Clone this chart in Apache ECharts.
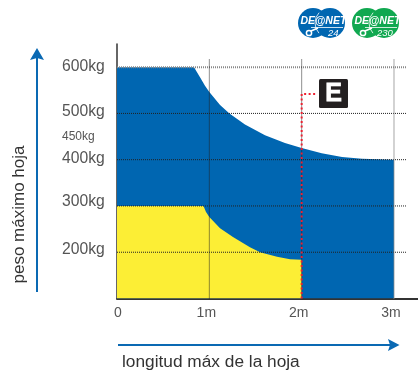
<!DOCTYPE html>
<html><head><meta charset="utf-8">
<style>html,body{margin:0;padding:0;background:#fff}#c{width:418px;height:374px}</style>
<script src="https://cdn.jsdelivr.net/npm/echarts@6/dist/echarts.min.js"></script>
</head><body><div id="c"></div>
<script>
const blueCurve = [[0,600],[0.834,600],[0.899,578],[0.953,560],[1,546],[1.116,518],[1.218,500],[1.386,476],[1.603,453],[1.819,436],[2,425],[2.217,414],[2.437,406],[2.654,402],[3,400]];
const yellowCurve = [[0,300],[0.937,300],[0.964,287],[1,276],[1.116,252],[1.256,233],[1.44,211],[1.549,200],[1.733,190],[1.874,185],[2,184]];
const redLine = [[2,100],[2,542],[2.165,542]];
const yTicks = [200,300,400,450,500,600];
const xTicks = [0,1,2,3];
const hLines = [600,500,400,300,200];
const vLines = [1,2,3];
const gridEndX = 3.13, gridTopY = 617;
const xTitle = 'longitud máx de la hoja';
const yTitle = 'peso máximo hoja';
const sans = '"Liberation Sans", Arial, sans-serif';
const BLUE = '#0066b1', GREEN = '#10a850', ARROW = '#0a69b3';

function area(name, data, color){
  return {name, type:'line', data, showSymbol:false, silent:true,
    lineStyle:{width:0}, itemStyle:{color}, areaStyle:{color, opacity:1, origin:'start'}, z:2};
}
function rule(name, data, color, width){
  return {name, type:'line', data, showSymbol:false, silent:true,
    lineStyle:{color, width, type:[1,1]}, itemStyle:{color}, z:3};
}
const series = [area('max', blueCurve, BLUE), area('hoja', yellowCurve, '#fcee35')];
hLines.forEach(v => series.push(rule(v+'kg', [[0,v],[gridEndX,v]], v===600?'#888':'#222', v===600?2:1)));
vLines.forEach(v => series.push(rule(v+'m', [[v,100],[v,gridTopY]], v===3?'#888':'#222', v===3?1.5:1)));
series.push({name:'E', type:'line', data:redLine, showSymbol:false, silent:true,
  lineStyle:{color:'#ee2030', width:2, type:[2,2.5]}, itemStyle:{color:'#ee2030'}, z:4});

function logo(x, color, sub){
  return [
    {type:'circle', shape:{cx:x+15,cy:23,r:15}, style:{fill:color}},
    {type:'circle', shape:{cx:x+32,cy:23,r:15}, style:{fill:color}},
    {type:'arc', shape:{cx:x+32,cy:23,r:15,startAngle:2.4,endAngle:3.9}, style:{stroke:'#fff',lineWidth:0.8,fill:null}},
    {type:'text', x:x+2.5, y:15.5, style:{text:'DE@NET', fill:'#fff', font:'italic bold 10.5px '+sans}},
    {type:'line', shape:{x1:x+13,y1:27.5,x2:x+45,y2:27.5}, style:{stroke:'#fff',lineWidth:0.8}},
    {type:'circle', shape:{cx:x+11,cy:33,r:2.6}, style:{fill:'none',stroke:'#fff',lineWidth:1.5}},
    {type:'line', shape:{x1:x+13,y1:31,x2:x+20,y2:28}, style:{stroke:'#fff',lineWidth:1.5}},
    {type:'text', x:sub.length>2?x+25:x+30, y:28.5, style:{text:sub, fill:'#fff', font:'italic 9.5px '+sans}}
  ];
}
const yNudge = {600:0,500:2,400:1,300:4,200:3};
const yFs = 15.7;
const chart = echarts.init(document.getElementById('c'), null, {renderer:'canvas'});
chart.setOption({
  animation:false,
  backgroundColor:'#fff',
  grid:{left:117,right:0,top:44,bottom:75.5,containLabel:false},
  xAxis:{type:'value',min:0,max:3.26,
    axisLine:{show:true,onZero:false,lineStyle:{color:'#333',width:2}},
    axisTick:{show:false},splitLine:{show:false},
    axisLabel:{customValues:xTicks,margin:8,color:'#555',fontFamily:sans,fontSize:14,
      showMinLabel:true,showMaxLabel:true,hideOverlap:false,
      formatter:v=>v===0?'{z|0}':'{m|'+v+'m}',
      rich:{z:{padding:[0,0,0,2],fontSize:14,color:'#555',fontFamily:sans},m:{padding:[0,6,0,0],fontSize:14,color:'#555',fontFamily:sans}}}},
  yAxis:{type:'value',min:100,max:650,
    axisLine:{show:true,onZero:false,lineStyle:{color:'#333',width:1.5}},
    axisTick:{show:false},splitLine:{show:false},
    axisLabel:{customValues:yTicks,align:'left',margin:55,color:'#555',fontFamily:sans,fontSize:yFs,hideOverlap:false,
      formatter:v=>v===450?'{s|450kg}':'{n'+yNudge[v]+'|'+v+'kg}',
      rich:{s:{fontSize:12,color:'#555',fontFamily:sans},
        n0:{fontSize:yFs,color:'#555',fontFamily:sans},
        n1:{fontSize:yFs,color:'#555',fontFamily:sans,padding:[0,0,2,0]},
        n2:{fontSize:yFs,color:'#555',fontFamily:sans,padding:[0,0,4,0]},
        n3:{fontSize:yFs,color:'#555',fontFamily:sans,padding:[0,0,6,0]},
        n4:{fontSize:yFs,color:'#555',fontFamily:sans,padding:[0,0,8,0]}}}},
  series,
  graphic:{elements:[
    {type:'rect',shape:{x:319,y:79,width:29,height:29,r:1.5},style:{fill:'#231f20'},z:10},
    {type:'text',x:333.5,y:94,style:{text:'E',fill:'#fff',stroke:'#fff',lineWidth:0.8,font:'bold 25px '+sans,align:'center',verticalAlign:'middle'},z:11},
    {type:'line',shape:{x1:37,y1:292,x2:37,y2:56},style:{stroke:ARROW,lineWidth:2}},
    {type:'polygon',shape:{points:[[37,48],[44,60],[37,58],[30,60]]},style:{fill:ARROW}},
    {type:'line',shape:{x1:118,y1:345,x2:392,y2:345},style:{stroke:ARROW,lineWidth:2}},
    {type:'polygon',shape:{points:[[399.5,345],[388,339],[390,345],[388,351]]},style:{fill:ARROW}},
    {type:'text',x:19,y:214.5,rotation:Math.PI/2,
      style:{text:yTitle,fill:'#333',font:'17px '+sans,align:'center',verticalAlign:'middle'}},
    {type:'text',x:122,y:362,style:{text:xTitle,fill:'#333',font:'17.3px '+sans,align:'left',verticalAlign:'middle'}},
    ...logo(298,BLUE,'24'),
    ...logo(352,GREEN,'230')
  ]}
});
</script></body></html>
